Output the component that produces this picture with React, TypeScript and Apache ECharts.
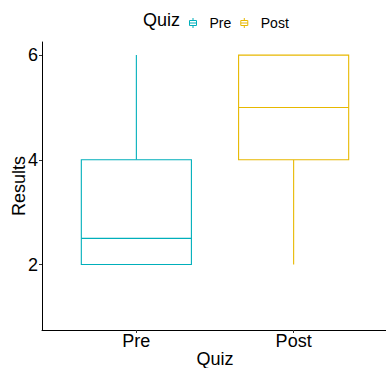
import React, { useEffect, useRef } from "react";
import * as echarts from "echarts";

const categories = ["Pre", "Post"];
const colors = ["#00AFBB", "#E7B800"];
// [x position, lower whisker, Q1, median, Q3, upper whisker]
const preStats = [[1, 2, 2, 2.5, 4, 6]];
const postStats = [[2, 2, 4, 5, 6, 6]];
const yTicks = [2, 4, 6];
const xTicks = [1, 2];

const FONT = "'Liberation Sans', Arial, Helvetica, sans-serif";
const ICON = "path://M35 0 L35 25 M0 25 L70 25 L70 75 L0 75 Z M0 50 L70 50 M35 75 L35 100";

function makeRender(color: string) {
  return (params: any, api: any) => {
    const x = api.value(0);
    const lo = api.coord([x, api.value(1)]);
    const q1 = api.coord([x, api.value(2)]);
    const med = api.coord([x, api.value(3)]);
    const q3 = api.coord([x, api.value(4)]);
    const hi = api.coord([x, api.value(5)]);
    const half = api.size([0.7, 0])[0] / 2;
    const cx = lo[0];
    const st = { stroke: color, lineWidth: 1.1, fill: null };
    return {
      type: "group",
      children: [
        { type: "line", shape: { x1: cx, y1: hi[1], x2: cx, y2: q3[1] }, style: st },
        { type: "line", shape: { x1: cx, y1: q1[1], x2: cx, y2: lo[1] }, style: st },
        {
          type: "rect",
          shape: { x: cx - half, y: q3[1], width: half * 2, height: q1[1] - q3[1] },
          style: { stroke: color, lineWidth: 1.1, fill: "#fff" },
        },
        { type: "line", shape: { x1: cx - half, y1: med[1], x2: cx + half, y2: med[1] }, style: st },
      ],
    };
  };
}

export default function App() {
  const ref = useRef<HTMLDivElement>(null);
  useEffect(() => {
    const chart = echarts.init(ref.current!, null, { renderer: "svg" });
    chart.setOption({
      animation: false,
      backgroundColor: "#fff",
      textStyle: { fontFamily: FONT },
      title: {
        text: "Quiz",
        left: 143,
        top: 11,
        padding: 0,
        textStyle: { fontSize: 18, fontWeight: "normal", color: "#000", fontFamily: FONT },
      },
      legend: {
        left: 189,
        top: 16,
        padding: 0,
        itemWidth: 7,
        itemHeight: 10,
        itemGap: 9,
        symbolKeepAspect: false,
        textStyle: { fontSize: 14, color: "#000", fontFamily: FONT, padding: [0, 0, 0, 8] },
        data: categories.map((c, i) => ({
          name: c,
          icon: ICON,
          itemStyle: { color: "rgba(0,0,0,0)", borderColor: colors[i], borderWidth: 1 },
        })),
      },
      grid: { left: 42, top: 42, width: 346, height: 288, outerBoundsMode: "none" },
      xAxis: {
        type: "value",
        min: 0.4,
        max: 2.6,
        name: "Quiz",
        nameLocation: "middle",
        nameGap: 20,
        nameMoveOverlap: false,
        nameTextStyle: { fontSize: 18, color: "#000", fontFamily: FONT },
        splitLine: { show: false },
        axisLine: { show: true, lineStyle: { color: "#000", width: 1 } },
        axisTick: { show: true, customValues: xTicks, length: 3, lineStyle: { color: "#333" } },
        axisLabel: {
          customValues: xTicks,
          formatter: (v: number) => categories[Math.round(v) - 1] ?? "",
          fontSize: 18,
          color: "#000",
          margin: 2,
          fontFamily: FONT,
        },
      },
      yAxis: {
        type: "value",
        min: 0.75,
        max: 6.25,
        name: "Results",
        nameLocation: "middle",
        nameGap: 14,
        nameMoveOverlap: false,
        nameTextStyle: { fontSize: 18, color: "#000", fontFamily: FONT },
        splitLine: { show: false },
        axisLine: { show: true, lineStyle: { color: "#000", width: 1 } },
        axisTick: { show: true, customValues: yTicks, length: 3, lineStyle: { color: "#333" } },
        axisLabel: {
          customValues: yTicks,
          fontSize: 18,
          color: "#000",
          margin: 4,
          fontFamily: FONT,
        },
      },
      series: [
        {
          name: categories[0],
          type: "custom",
          renderItem: makeRender(colors[0]),
          encode: { x: 0, y: [1, 2, 3, 4, 5] },
          data: preStats,
          itemStyle: { color: colors[0] },
        },
        {
          name: categories[1],
          type: "custom",
          renderItem: makeRender(colors[1]),
          encode: { x: 0, y: [1, 2, 3, 4, 5] },
          data: postStats,
          itemStyle: { color: colors[1] },
        },
      ],
    });
    return () => chart.dispose();
  }, []);
  return (
    <div
      ref={ref}
      style={{ position: "fixed", left: 0, top: 0, width: 386, height: 368 }}
    />
  );
}
